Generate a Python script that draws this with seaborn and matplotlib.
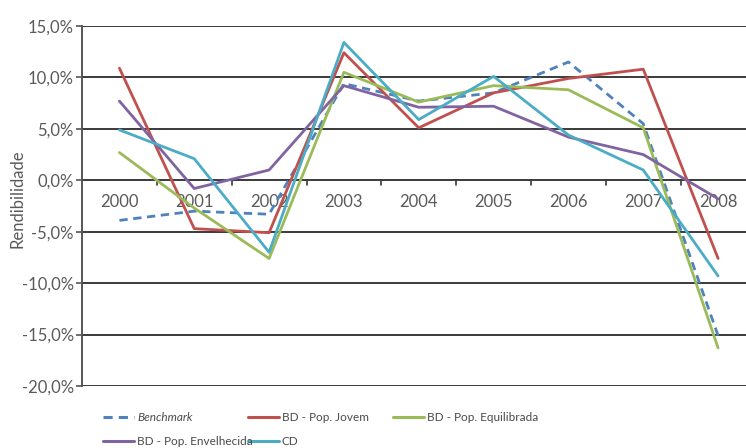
import matplotlib
matplotlib.use("Agg")
import matplotlib.pyplot as plt
import seaborn as sns
import pandas as pd
from matplotlib.ticker import FuncFormatter, FixedLocator
from matplotlib.lines import Line2D

years = ["2000", "2001", "2002", "2003", "2004", "2005", "2006", "2007", "2008"]
benchmark = [-3.9, -3.0, -3.3, 9.4, 7.7, 8.5, 11.5, 5.5, -15.1]
bd_jovem = [10.9, -4.7, -5.1, 12.4, 5.1, 8.5, 9.9, 10.8, -7.6]
bd_equilibrada = [2.7, -2.7, -7.6, 10.5, 7.6, 9.2, 8.8, 5.1, -16.3]
bd_envelhecida = [7.7, -0.8, 1.0, 9.2, 7.1, 7.2, 4.2, 2.5, -1.8]
cd = [4.9, 2.1, -7.0, 13.4, 5.9, 10.1, 4.4, 1.0, -9.3]
y_ticks = [15, 10, 5, 0, -5, -10, -15, -20]

series_names = ["Benchmark", "BD - Pop. Jovem", "BD - Pop. Equilibrada",
                "BD - Pop. Envelhecida", "CD"]
series_vals = [benchmark, bd_jovem, bd_equilibrada, bd_envelhecida, cd]
colors = ["#4F81BD", "#C0504D", "#9BBB59", "#8064A2", "#4BACC6"]

rows = []
for name, vals in zip(series_names, series_vals):
    for i, v in enumerate(vals):
        rows.append({"x": i, "Rendibilidade": v, "serie": name})
df = pd.DataFrame(rows)

sns.set_style("white")
plt.rcParams["font.family"] = ["Lato", "DejaVu Sans"]

fig = plt.figure(figsize=(7.46, 4.48), dpi=100)
ax = fig.add_axes([82 / 746, 62 / 448, (755.5 - 82) / 746, 360 / 448])

dashes = {n: "" for n in series_names}
dashes["Benchmark"] = (3, 2)
sns.lineplot(data=df, x="x", y="Rendibilidade", hue="serie", style="serie",
             hue_order=series_names, style_order=series_names,
             palette=dict(zip(series_names, colors)), dashes=dashes,
             linewidth=2, ax=ax, legend=False, zorder=3)

ax.set_xlim(-0.5, 8.5)
ax.set_ylim(-20, 15)
ax.yaxis.set_major_locator(FixedLocator(y_ticks))
ax.yaxis.set_major_formatter(FuncFormatter(lambda v, p: f"{v:.1f}%".replace(".", ",")))
ax.grid(axis="y", color="#3a3a3a", linewidth=1.4)
ax.grid(axis="x", visible=False)
for s in ["top", "right", "bottom"]:
    ax.spines[s].set_visible(False)
ax.spines["left"].set_color("#555555")
ax.spines["left"].set_linewidth(1.4)
ax.tick_params(axis="y", left=True, length=4, width=1.2, color="#555555",
               labelsize=12, labelcolor="#5a5a5a", pad=2)

# x axis at zero
ax.set_xticks(range(len(years)))
ax.set_xticklabels([])
ax.tick_params(axis="x", which="major", length=0)
for i, yr in enumerate(years):
    ax.text(i, -2.1, yr, ha="center", va="center", fontsize=12, color="#5a5a5a", zorder=2)
for t in [i + 0.5 for i in range(len(years) - 1)]:
    ax.plot([t, t], [0, -0.5], color="#3a3a3a", linewidth=1.2, zorder=2)

ax.set_xlabel("")
ax.set_ylabel("")
fig.text(18 / 746, 1 - 199 / 448, "Rendibilidade", rotation=90, ha="center", va="center",
         fontsize=12, color="#5a5a5a")

# legend entries placed like the reference (two rows)
positions = {
    "Benchmark": (103, 417),
    "BD - Pop. Jovem": (248, 417),
    "BD - Pop. Equilibrada": (393, 417),
    "BD - Pop. Envelhecida": (103, 441),
    "CD": (248, 441),
}
W, H = 746.0, 448.0
for name, color in zip(series_names, colors):
    x0, yc = positions[name]
    ls = (0, (3, 2)) if name == "Benchmark" else "-"
    fig.add_artist(Line2D([x0 / W, (x0 + 31) / W], [1 - yc / H, 1 - yc / H],
                          transform=fig.transFigure, color=color, linewidth=2.2,
                          linestyle=ls))
    fig.text((x0 + 34) / W, 1 - yc / H, name, ha="left", va="center", fontsize=8.5,
             color="#4a4a4a",
             fontstyle="italic" if name == "Benchmark" else "normal")

fig.savefig("out.png", dpi=100)
